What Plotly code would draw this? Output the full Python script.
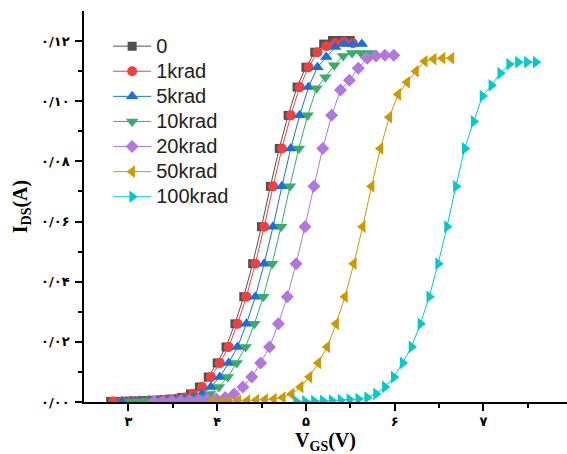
import plotly.graph_objects as go

# Gate voltage sweeps (V) for each total ionizing dose
vgs_0 = [2.80, 2.90, 3.00, 3.10, 3.20, 3.30, 3.40, 3.50, 3.60, 3.70, 3.80, 3.90, 4.00, 4.10,
         4.20, 4.30, 4.40, 4.50, 4.60, 4.70, 4.80, 4.90, 5.00, 5.10, 5.20, 5.30, 5.40, 5.50]
vgs_1k = [2.83, 2.93, 3.03, 3.13, 3.23, 3.33, 3.43, 3.53, 3.63, 3.73, 3.83, 3.93, 4.03, 4.13,
          4.23, 4.33, 4.43, 4.53, 4.63, 4.73, 4.83, 4.93, 5.03, 5.13, 5.23, 5.33, 5.43, 5.53]
vgs_5k = [2.93, 3.03, 3.13, 3.23, 3.33, 3.43, 3.53, 3.63, 3.73, 3.83, 3.93, 4.03, 4.13, 4.23,
          4.33, 4.43, 4.53, 4.63, 4.73, 4.83, 4.93, 5.03, 5.13, 5.23, 5.33, 5.43, 5.53, 5.63]
vgs_10k = [3.02, 3.12, 3.22, 3.32, 3.42, 3.52, 3.62, 3.72, 3.82, 3.92, 4.02, 4.12, 4.22, 4.32,
           4.42, 4.52, 4.62, 4.72, 4.82, 4.92, 5.02, 5.12, 5.22, 5.32, 5.42, 5.52, 5.62, 5.72]
vgs_20k = [3.29, 3.39, 3.49, 3.59, 3.69, 3.79, 3.89, 3.99, 4.09, 4.19, 4.29, 4.39, 4.49, 4.59,
           4.69, 4.79, 4.89, 4.99, 5.09, 5.19, 5.29, 5.39, 5.49, 5.59, 5.69, 5.79, 5.89, 5.99]
vgs_50k = [3.94, 4.04, 4.14, 4.24, 4.34, 4.44, 4.54, 4.64, 4.74, 4.84, 4.94, 5.04, 5.14, 5.24,
           5.34, 5.44, 5.54, 5.64, 5.74, 5.84, 5.94, 6.04, 6.14, 6.24, 6.34, 6.44, 6.54, 6.64]
vgs_100k = [4.89, 4.99, 5.09, 5.19, 5.29, 5.39, 5.49, 5.59, 5.69, 5.79, 5.89, 5.99, 6.09, 6.19,
            6.29, 6.39, 6.49, 6.59, 6.69, 6.79, 6.89, 6.99, 7.09, 7.19, 7.29, 7.39, 7.49, 7.59]

# Drain current (A)
ids_0 = [0.0002, 0.0002, 0.0003, 0.0004, 0.0005, 0.0006, 0.0008, 0.0010, 0.0015, 0.0027,
         0.0050, 0.0083, 0.0130, 0.0183, 0.0260, 0.0350, 0.0460, 0.0583, 0.0717, 0.0843,
         0.0953, 0.1047, 0.1113, 0.1163, 0.1190, 0.1202, 0.1202, 0.1202]
ids_1k = [0.0002, 0.0002, 0.0003, 0.0004, 0.0005, 0.0006, 0.0008, 0.0010, 0.0015, 0.0027,
          0.0050, 0.0083, 0.0130, 0.0183, 0.0260, 0.0350, 0.0460, 0.0583, 0.0717, 0.0843,
          0.0953, 0.1047, 0.1113, 0.1163, 0.1183, 0.1193, 0.1197, 0.1193]
ids_5k = [0.0002, 0.0002, 0.0003, 0.0004, 0.0005, 0.0006, 0.0008, 0.0010, 0.0015, 0.0027,
          0.0050, 0.0083, 0.0130, 0.0183, 0.0260, 0.0350, 0.0460, 0.0583, 0.0717, 0.0843,
          0.0953, 0.1047, 0.1113, 0.1147, 0.1180, 0.1190, 0.1190, 0.1190]
ids_10k = [0.0002, 0.0002, 0.0003, 0.0004, 0.0005, 0.0006, 0.0008, 0.0010, 0.0015, 0.0027,
           0.0050, 0.0083, 0.0130, 0.0183, 0.0260, 0.0350, 0.0460, 0.0583, 0.0717, 0.0843,
           0.0953, 0.1043, 0.1080, 0.1120, 0.1150, 0.1160, 0.1160, 0.1160]
ids_20k = [0.0002, 0.0002, 0.0003, 0.0004, 0.0005, 0.0006, 0.0008, 0.0010, 0.0015, 0.0027,
           0.0050, 0.0083, 0.0130, 0.0183, 0.0260, 0.0350, 0.0460, 0.0583, 0.0717, 0.0843,
           0.0953, 0.1037, 0.1070, 0.1110, 0.1143, 0.1150, 0.1153, 0.1153]
ids_50k = [0.0002, 0.0002, 0.0003, 0.0004, 0.0005, 0.0006, 0.0008, 0.0010, 0.0015, 0.0027,
           0.0050, 0.0083, 0.0130, 0.0183, 0.0260, 0.0350, 0.0460, 0.0583, 0.0717, 0.0843,
           0.0947, 0.1023, 0.1063, 0.1100, 0.1133, 0.1140, 0.1143, 0.1143]
ids_100k = [0.0002, 0.0002, 0.0003, 0.0004, 0.0005, 0.0006, 0.0008, 0.0010, 0.0015, 0.0027,
            0.0050, 0.0083, 0.0130, 0.0183, 0.0260, 0.0350, 0.0460, 0.0583, 0.0717, 0.0843,
            0.0933, 0.1017, 0.1053, 0.1093, 0.1123, 0.1130, 0.1130, 0.1130]

dose_labels = ["0", "1krad", "5krad", "10krad", "20krad", "50krad", "100krad"]

# Axis ticks (Persian numerals)
x_tick_vals = [3, 4, 5, 6, 7]
x_tick_text = ["۳", "۴", "۵", "۶", "۷"]
x_minor_vals = [3.5, 4.5, 5.5, 6.5, 7.5]
y_tick_vals = [0.00, 0.02, 0.04, 0.06, 0.08, 0.10, 0.12]
y_tick_text = ["۰/۰۰", "۰/۰۲", "۰/۰۴", "۰/۰۶", "۰/۰۸", "۰/۱۰", "۰/۱۲"]
y_minor_vals = [0.01, 0.03, 0.05, 0.07, 0.09, 0.11]

series_x = [vgs_0, vgs_1k, vgs_5k, vgs_10k, vgs_20k, vgs_50k, vgs_100k]
series_y = [ids_0, ids_1k, ids_5k, ids_10k, ids_20k, ids_50k, ids_100k]
colors = ["#515151", "#F14040", "#1A6FDF", "#37AD6B", "#B177DE", "#CC9900", "#00CBCC"]
symbols = ["square", "circle", "triangle-up", "triangle-down", "diamond",
           "triangle-left", "triangle-right"]
sizes = [9, 10, 11, 11, 10, 11, 11]

X_RANGE = [2.5, 7.942]
Y_RANGE = [0, 0.13]

fig = go.Figure()
for xs, ys, name, c, s, sz in zip(series_x, series_y, dose_labels, colors, symbols, sizes):
    fig.add_trace(go.Scatter(
        x=xs, y=ys, mode="lines+markers",
        # larger legend text while keeping the compact row spacing
        name=f"<span style='font-size:20px'>{name}</span>",
        line=dict(color=c, width=1),
        marker=dict(symbol=s, size=sz, color=c, line=dict(width=0)),
    ))

tick_font = dict(family="DejaVu Sans", size=13, color="black", weight="bold")

fig.update_layout(
    width=567, height=454,
    margin=dict(l=84, r=0, t=11, b=52),
    paper_bgcolor="white", plot_bgcolor="white",
    showlegend=True,
    legend=dict(
        x=0.05, y=0.955, xanchor="left", yanchor="top",
        bgcolor="rgba(0,0,0,0)",
        font=dict(family="Liberation Sans", size=17, color="#222"),
        itemwidth=38, tracegroupgap=0,
    ),
    xaxis=dict(
        range=X_RANGE, tickmode="array", tickvals=x_tick_vals, ticktext=x_tick_text,
        ticks="outside", ticklen=7, tickwidth=1.5, tickcolor="black",
        showline=True, linewidth=1.5, linecolor="black", showgrid=False, zeroline=False,
        tickfont=tick_font,
        minor=dict(tickmode="array", tickvals=x_minor_vals, ticks="outside",
                   ticklen=4, tickwidth=1.5, tickcolor="black", showgrid=False),
        title=dict(text="<b>V<sub>GS</sub>(V)</b>", standoff=8,
                   font=dict(family="Liberation Serif", size=20, color="black")),
    ),
    yaxis=dict(
        range=Y_RANGE, tickmode="array", tickvals=y_tick_vals, ticktext=y_tick_text,
        ticks="outside", ticklen=7, tickwidth=1.5, tickcolor="black",
        showline=True, linewidth=1.5, linecolor="black", showgrid=False, zeroline=False,
        tickfont=tick_font, ticklabelstandoff=3,
        minor=dict(tickmode="array", tickvals=y_minor_vals, ticks="outside",
                   ticklen=4, tickwidth=1.5, tickcolor="black", showgrid=False),
        title=dict(text="<b>I<sub>DS</sub>(A)</b>", standoff=8,
                   font=dict(family="Liberation Serif", size=20, color="black")),
    ),
    xaxis2=dict(
        overlaying="x", side="top", range=X_RANGE, tickmode="array",
        tickvals=x_tick_vals, showticklabels=False,
        ticks="inside", ticklen=6, tickwidth=1.5, tickcolor="black",
        showline=True, linewidth=1.5, linecolor="black", showgrid=False, zeroline=False,
        minor=dict(tickmode="array", tickvals=x_minor_vals, ticks="inside",
                   ticklen=4, tickwidth=1.5, tickcolor="black", showgrid=False),
    ),
    yaxis2=dict(
        overlaying="y", side="right", range=Y_RANGE, tickmode="array",
        tickvals=y_tick_vals, showticklabels=False,
        ticks="inside", ticklen=6, tickwidth=1.5, tickcolor="black",
        showline=False, showgrid=False, zeroline=False,
        minor=dict(tickmode="array", tickvals=y_minor_vals, ticks="inside",
                   ticklen=4, tickwidth=1.5, tickcolor="black", showgrid=False),
    ),
)

fig.write_html("out.html")
